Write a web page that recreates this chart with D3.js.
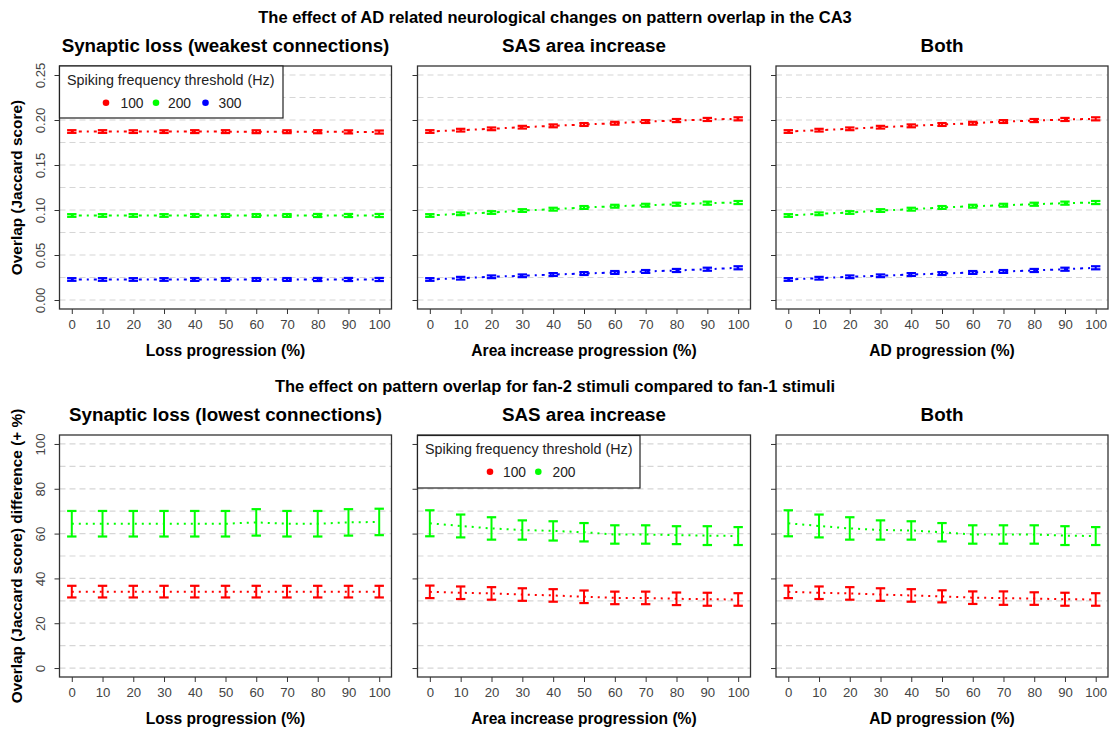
<!DOCTYPE html>
<html><head><meta charset="utf-8">
<script src="https://cdn.jsdelivr.net/npm/d3@7/dist/d3.min.js"></script>
<style>body{margin:0;background:#fff}svg{display:block;font-family:"Liberation Sans",Arial,sans-serif}</style>
</head><body><svg id="c" width="1110" height="730"></svg>
<script>
const progression = [0,10,20,30,40,50,60,70,80,90,100];
const colors = {"100":"#ff0000","200":"#00ff00","300":"#0000ff"};
// Top row: mean Jaccard overlap
const lossTop100 = [0.1872,0.1872,0.1871,0.1871,0.1871,0.1871,0.1870,0.1870,0.1870,0.1868,0.1866];
const lossTop200 = [0.0939,0.0939,0.0939,0.0939,0.0939,0.0939,0.0939,0.0939,0.0939,0.0939,0.0939];
const lossTop300 = [0.0228,0.0228,0.0228,0.0228,0.0228,0.0228,0.0228,0.0228,0.0228,0.0228,0.0228];
const sasTop100 = [0.1872,0.1887,0.1902,0.1920,0.1935,0.1950,0.1964,0.1983,0.1994,0.2006,0.2013];
const sasTop200 = [0.0939,0.0958,0.0972,0.0994,0.1009,0.1028,0.1042,0.1053,0.1064,0.1076,0.1083];
const sasTop300 = [0.0228,0.0242,0.0258,0.0269,0.0283,0.0294,0.0306,0.0317,0.0328,0.0342,0.0358];
const bothTop100 = [0.1872,0.1887,0.1902,0.1920,0.1935,0.1950,0.1964,0.1983,0.1994,0.2006,0.2013];
const bothTop200 = [0.0939,0.0958,0.0972,0.0994,0.1009,0.1028,0.1042,0.1053,0.1064,0.1076,0.1083];
const bothTop300 = [0.0228,0.0242,0.0258,0.0269,0.0283,0.0294,0.0306,0.0317,0.0328,0.0342,0.0358];
const topErr = [0.0015,0.0015,0.0015,0.0015,0.0016,0.0016,0.0016,0.0016,0.0017,0.0017,0.0017];
// Bottom row: fan-2 vs fan-1 difference (+%)
const lossBot100 = [34.1,34.1,34.1,34.1,34.1,34.1,34.1,34.1,34.1,34.1,34.1];
const lossBot200 = [64.4,64.4,64.4,64.4,64.4,64.4,65.0,64.4,64.4,65.0,65.2];
const lossErr100 = [2.6,2.6,2.6,2.6,2.6,2.6,2.6,2.6,2.6,2.6,2.6];
const lossErr200 = [5.7,5.7,5.7,5.7,5.7,5.7,5.9,5.7,5.7,5.9,5.9];
const sasBot100 = [34.0,33.6,33.3,32.8,32.4,31.8,31.3,31.3,30.9,30.7,30.6];
const sasBot200 = [64.6,63.4,62.3,61.6,61.2,60.6,59.6,59.6,59.3,59.1,58.9];
const sasErr100 = [2.8,2.8,2.8,2.8,2.8,2.8,2.8,2.8,2.8,2.9,2.8];
const sasErr200 = [5.8,5.1,5.0,4.3,4.3,4.1,4.1,4.1,4.0,4.2,4.0];
const bothBot100 = [34.0,33.6,33.3,32.8,32.4,32.0,31.4,31.2,31.0,30.7,30.6];
const bothBot200 = [64.6,63.4,62.3,61.6,61.4,60.6,59.6,59.6,59.6,59.1,58.9];
const bothErr100 = [2.8,2.8,2.8,2.8,2.8,2.7,2.8,3.0,2.8,2.9,2.8];
const bothErr200 = [5.8,5.1,5.0,4.3,4.1,4.1,4.1,4.1,4.1,4.2,4.0];
const topTicks = [0,0.05,0.10,0.15,0.20,0.25];
const topTickLabels = ["0.00","0.05","0.10","0.15","0.20","0.25"];
const botTicks = [0,20,40,60,80,100];
const botTickLabels = ["0","20","40","60","80","100"];
const thresholdsTop = ["100","200","300"];
const thresholdsBot = ["100","200"];

const svg = d3.select("#c");
const FONT = '"Liberation Sans",Arial,sans-serif';
const panelsX = [[59.5,391.5],[417.5,750.5],[776,1108]];

function text(x,y,s,opts={}){
  const t = svg.append("text").attr("x",x).attr("y",y).text(s)
    .attr("font-size",opts.size||13).attr("fill",opts.fill||"#000")
    .attr("text-anchor",opts.anchor||"middle")
    .attr("font-weight",opts.bold?"bold":"normal");
  if(opts.rotate) t.attr("transform",`rotate(-90,${x},${y})`);
  return t;
}

function panel(px, yTop, yBot, yDomain, gridVals, ticks, tickLabels, showLabels, series, lineDash, title, xTitle){
  const x = d3.scaleLinear().domain([-4,104]).range(px);
  const y = d3.scaleLinear().domain(yDomain).range([yBot,yTop]);
  const g = svg.append("g");
  g.selectAll("line.grid").data(gridVals).join("line")
    .attr("x1",px[0]).attr("x2",px[1]).attr("y1",d=>y(d)).attr("y2",d=>y(d))
    .attr("stroke","#d6d6d6").attr("stroke-width",1.2).attr("stroke-dasharray","6,4");
  series.forEach(s=>{
    const line = d3.line().x((d,i)=>x(progression[i])).y(d=>y(d));
    g.append("path").attr("d",line(s.values)).attr("fill","none")
      .attr("stroke",s.color).attr("stroke-width",2).attr("stroke-dasharray",lineDash);
    s.values.forEach((v,i)=>{
      const cx = x(progression[i]), e = s.err[i];
      const y1 = y(v-e), y2 = y(v+e);
      g.append("line").attr("x1",cx).attr("x2",cx).attr("y1",y1).attr("y2",y2)
        .attr("stroke",s.color).attr("stroke-width",2);
      [y1,y2].forEach(yy=>g.append("line").attr("x1",cx-4.7).attr("x2",cx+4.7)
        .attr("y1",yy).attr("y2",yy).attr("stroke",s.color).attr("stroke-width",2.2));
    });
  });
  g.append("rect").attr("x",px[0]).attr("y",yTop).attr("width",px[1]-px[0]).attr("height",yBot-yTop)
    .attr("fill","none").attr("stroke","#333").attr("stroke-width",1.3);
  const xa = d3.axisBottom(x).tickValues(progression).tickSize(5).tickFormat(d3.format("d"));
  const xg = g.append("g").attr("transform",`translate(0,${yBot})`).call(xa);
  xg.select(".domain").remove();
  xg.selectAll("line").attr("stroke","#333");
  xg.selectAll("text").attr("font-size",13.2).attr("font-family",FONT).attr("fill","#444")
    .attr("y",19.5).attr("dy",0);
  const ya = d3.axisLeft(y).tickValues(ticks).tickSize(5).tickFormat((d,i)=>showLabels?tickLabels[i]:"");
  const yg = g.append("g").attr("transform",`translate(${px[0]},0)`).call(ya);
  yg.select(".domain").remove();
  yg.selectAll("line").attr("stroke","#333");
  if(showLabels){
    yg.selectAll("text").attr("font-size",13.2).attr("font-family",FONT).attr("fill","#444")
      .attr("text-anchor","middle").attr("x",0).attr("y",0).attr("dy",0)
      .attr("transform","translate(-15,0) rotate(-90)");
  }
  text((px[0]+px[1])/2, yTop-14, title, {size:18.8,bold:true});
  text((px[0]+px[1])/2, yBot+47, xTitle, {size:15.6,bold:true});
  return {x,y};
}

function legend(x0,y0,w,h,items,dotXs,txtXs,titleX,titleY,dotY){
  svg.append("rect").attr("x",x0).attr("y",y0).attr("width",w).attr("height",h)
    .attr("fill","#fff").attr("stroke","#222").attr("stroke-width",1.2);
  text(titleX,titleY,"Spiking frequency threshold (Hz)",{size:14.3,anchor:"start",fill:"#222"});
  items.forEach((k,i)=>{
    svg.append("circle").attr("cx",dotXs[i]).attr("cy",dotY).attr("r",3.3).attr("fill",colors[k]);
    text(txtXs[i],dotY+5,k,{size:13.8,anchor:"start",fill:"#222"});
  });
}

const topGrid = d3.range(0,11).map(i=>i*0.025);
const topTitles = ["Synaptic loss (weakest connections)","SAS area increase","Both"];
const xTitles = ["Loss progression (%)","Area increase progression (%)","AD progression (%)"];
const topSeries = [[lossTop100,lossTop200,lossTop300],[sasTop100,sasTop200,sasTop300],[bothTop100,bothTop200,bothTop300]];
topSeries.forEach((ser,pi)=>{
  panel(panelsX[pi],66,309,[-0.01,0.26],topGrid,topTicks,topTickLabels,pi===0,
    ser.map((v,k)=>({values:v,err:topErr,color:colors[thresholdsTop[k]]})),
    "2,5,3,5",topTitles[pi],xTitles[pi]);
});
text(555,23,"The effect of AD related neurological changes on pattern overlap in the CA3",{size:16.5,bold:true});
text(22,187.5,"Overlap (Jaccard score)",{size:15.4,bold:true,rotate:true});
legend(59.5,66,223.5,52,thresholdsTop,[106,156,205.5],[120.5,168,218.5],67,85,102.7);

const botGrid = d3.range(0,11).map(i=>i*10);
const botTitles = ["Synaptic loss (lowest connections)","SAS area increase","Both"];
const botSeries = [
  [[lossBot100,lossErr100],[lossBot200,lossErr200]],
  [[sasBot100,sasErr100],[sasBot200,sasErr200]],
  [[bothBot100,bothErr100],[bothBot200,bothErr200]]];
botSeries.forEach((ser,pi)=>{
  panel(panelsX[pi],435,677,[-4,104],botGrid,botTicks,botTickLabels,pi===0,
    ser.map((v,k)=>({values:v[0],err:v[1],color:colors[thresholdsBot[k]]})),
    "2,5",botTitles[pi],xTitles[pi]);
});
text(555,392,"The effect on pattern overlap for fan-2 stimuli compared to fan-1 stimuli",{size:16.5,bold:true});
text(22,556,"Overlap (Jaccard score) difference (+ %)",{size:15.4,bold:true,rotate:true});
legend(417.5,435.5,222.5,52.5,thresholdsBot,[490,538.3],[503,552.5],425,454,471.7);
</script></body></html>
